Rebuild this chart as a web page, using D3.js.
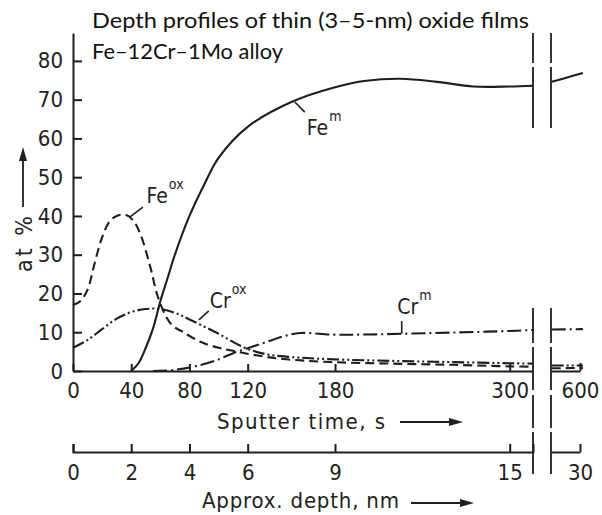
<!DOCTYPE html>
<html>
<head>
<meta charset="utf-8">
<script src="https://cdn.jsdelivr.net/npm/d3@7"></script>
<style>
  body { margin: 0; background: #fff; }
</style>
</head>
<body>
<div id="chart"></div>
<script>
// tick values
const sputterTicks = [0, 40, 80, 120, 180, 300];
const sputterTicksFar = [600];
const depthTicks = [0, 2, 4, 6, 9, 15];
const depthTicksFar = [30];
const atTicks = [0, 10, 20, 30, 40, 50, 60, 70, 80];

// series: [sputter time s, at %] (left part up to the axis break, then beyond it)
const feMetal = [[40,0],[45,2],[50,6],[55,11],[60,18],[65,24],[70,30],[80,40],[90,48],[100,55],
  [120,63],[150,69.4],[180,73.2],[200,74.8],[225,75.4],[250,74.6],[275,73.4],[300,73.4],[316,73.6]];
const feMetalFar = [[561,74.6],[580,75.6],[604,76.9]];

const feOxide = [[0,17],[5,18],[10,21],[15,28],[20,34.5],[25,38.5],[30,40],[36,40.3],[41,39],[46,35.6],
  [53,27],[58,19.5],[64,14],[69,11.5],[75,10.2],[87,7.6],[100,6],[110,5.2],[125,4.1],[144,3.1],
  [178,2.3],[220,1.9],[260,1.6],[300,1.2],[316,1.1]];
const feOxideFar = [[561,0.7],[604,0.8]];

const crOxide = [[0,6],[10,8],[20,10.8],[30,13.5],[40,15.2],[50,16],[60,16],[70,15],[80,13.3],
  [99,9.8],[118,6],[133,4.3],[150,3.6],[180,3],[220,2.6],[260,2.3],[300,2],[316,1.9]];
const crOxideFar = [[561,1.4],[604,1.4]];

const crMetal = [[55,0],[70,0.3],[87,1.5],[100,3],[110,4.6],[121,6],[133,7.5],[145,9],[156,9.8],
  [178,9.4],[200,9.4],[247,9.8],[280,10.1],[305,10.4],[316,10.6]];
const crMetalFar = [[561,10.7],[604,10.8]];

const width = 602, height = 515;
const svg = d3.select("#chart").append("svg")
  .attr("width", width).attr("height", height);

// scales
const x = d3.scaleLinear().domain([0, 316]).range([73, 533]);
const xFar = d3.scaleLinear().domain([560, 600]).range([551, 580]);
const xd = d3.scaleLinear().domain([0, 15.8]).range([73, 533]);
const xdFar = d3.scaleLinear().domain([28, 30]).range([551, 580]);
const y = d3.scaleLinear().domain([0, 87.2]).range([371, 33]);

const ink = "#1e1e1e";
const labFont = "'DejaVu Sans Condensed', 'Liberation Sans Narrow', sans-serif";
const fmt = d3.format("d");

function styleAxis(g, size) {
  g.attr("font-size", null).attr("font-family", null);
  g.selectAll("path, line").attr("stroke", ink).attr("stroke-width", 2);
  g.selectAll("text")
    .style("font-family", labFont)
    .style("font-size", size + "px")
    .attr("fill", "#222");
}

// y axis
svg.append("g").attr("transform", "translate(73,0)")
  .call(d3.axisLeft(y).tickValues(atTicks).tickFormat(fmt).tickSize(-9).tickSizeOuter(0).tickPadding(10))
  .call(g => styleAxis(g, 22));

// sputter time axis
svg.append("g").attr("transform", "translate(0,371)")
  .call(d3.axisBottom(x).tickValues(sputterTicks).tickFormat(fmt).tickSize(-7).tickSizeOuter(0).tickPadding(11))
  .call(g => styleAxis(g, 22));
svg.append("g").attr("transform", "translate(0,371)")
  .call(d3.axisBottom(xFar).tickValues(sputterTicksFar).tickFormat(fmt).tickSize(-8).tickSizeOuter(0).tickPadding(11))
  .call(g => styleAxis(g, 22));

// depth axis
svg.append("g").attr("transform", "translate(0,452)")
  .call(d3.axisBottom(xd).tickValues(depthTicks).tickFormat(fmt).tickSize(-8).tickSizeOuter(-8).tickPadding(12))
  .call(g => styleAxis(g, 22));
svg.append("g").attr("transform", "translate(0,452)")
  .call(d3.axisBottom(xdFar).tickValues(depthTicksFar).tickFormat(fmt).tickSize(-8).tickSizeOuter(0).tickPadding(12))
  .call(g => styleAxis(g, 22));

// break marks
const breakPieces = [[33,63],[67,128],[308,343],[347,390],[395,428],[432,474]];
[533, 551].forEach(bx => {
  svg.selectAll(null).data(breakPieces).enter().append("line")
    .attr("x1", bx).attr("x2", bx)
    .attr("y1", d => d[0]).attr("y2", d => d[1])
    .attr("stroke", ink).attr("stroke-width", 1.8);
});

// curves
const series = [
  { near: feMetal, far: feMetalFar, dash: null },
  { near: feOxide, far: feOxideFar, dash: "9,5" },
  { near: crOxide, far: crOxideFar, dash: "12,3,2,3,2,3" },
  { near: crMetal, far: crMetalFar, dash: "14,4,2,4" }
];
const lineNear = d3.line().x(d => x(d[0])).y(d => y(d[1])).curve(d3.curveCatmullRom.alpha(0.5));
const lineFar = d3.line().x(d => xFar(d[0])).y(d => y(d[1])).curve(d3.curveCatmullRom.alpha(0.5));

series.forEach(s => {
  [[lineNear, s.near], [lineFar, s.far]].forEach(([gen, data]) => {
    svg.append("path").datum(data)
      .attr("d", gen)
      .attr("fill", "none")
      .attr("stroke", ink)
      .attr("stroke-width", 2.1)
      .attr("stroke-dasharray", s.dash);
  });
});

// curve labels with leader lines
const labels = [
  { base: "Fe", sup: "ox", from: [39, 39.7], to: [48, 42.3], at: [50.5, 43.4] },
  { base: "Cr", sup: "ox", from: [86.5, 13.2], to: [93.3, 15.5], at: [94, 16.3] },
  { base: "Fe", sup: "m", from: [152.4, 69.4], to: [159.2, 66.8], at: [160.6, 60.9] },
  { base: "Cr", sup: "m", from: [225.8, 9.6], to: [225.8, 12.9], at: [222.8, 14.6] }
];
labels.forEach(l => {
  svg.append("line")
    .attr("x1", x(l.from[0])).attr("y1", y(l.from[1]))
    .attr("x2", x(l.to[0])).attr("y2", y(l.to[1]))
    .attr("stroke", ink).attr("stroke-width", 1.6);
  const t = svg.append("text")
    .attr("x", x(l.at[0])).attr("y", y(l.at[1]))
    .attr("fill", "#222")
    .style("font-family", labFont)
    .style("font-size", "21px");
  t.append("tspan").text(l.base);
  t.append("tspan").attr("dy", -14).attr("dx", 1).style("font-size", "14px").text(l.sup);
});

// axis titles
function axisTitle(tx, ty, len, str, rot) {
  const t = svg.append("text")
    .attr("transform", `translate(${tx},${ty})` + (rot ? ` rotate(${rot})` : ""))
    .attr("fill", "#222")
    .style("font-family", labFont)
    .style("font-size", "22px")
    .text(str);
  if (len) t.attr("textLength", len).attr("lengthAdjust", "spacing");
  return t;
}
axisTitle(217, 429, 168, "Sputter time, s");
axisTitle(202, 508, 197, "Approx. depth, nm");
axisTitle(32, 272, null, "at %", -90)
  .style("font-size", "23px")
  .style("letter-spacing", "3px");

// arrows
function arrow(x1, y1, x2, y2) {
  const ang = Math.atan2(y2 - y1, x2 - x1);
  const hl = 14, hw = 4;
  const bx = x2 - hl * Math.cos(ang), by = y2 - hl * Math.sin(ang);
  svg.append("line").attr("x1", x1).attr("y1", y1).attr("x2", bx).attr("y2", by)
    .attr("stroke", ink).attr("stroke-width", 1.8);
  svg.append("path")
    .attr("d", `M${x2},${y2}L${bx - hw * Math.sin(ang)},${by + hw * Math.cos(ang)}L${bx + hw * Math.sin(ang)},${by - hw * Math.cos(ang)}Z`)
    .attr("fill", ink);
}
arrow(400, 422, 463, 422);
arrow(411, 503, 474, 503);
arrow(23, 207, 23, 147);

// title
const titleFont = "Lato, 'Open Sans', sans-serif";
svg.append("text")
  .attr("x", 92).attr("y", 28)
  .attr("textLength", 437).attr("lengthAdjust", "spacingAndGlyphs")
  .attr("fill", "#111")
  .style("font-family", titleFont)
  .style("font-size", "21px").text("Depth profiles of thin (3–5-nm) oxide films");
svg.append("text")
  .attr("x", 92).attr("y", 59)
  .attr("textLength", 191).attr("lengthAdjust", "spacingAndGlyphs")
  .attr("fill", "#111")
  .style("font-family", titleFont)
  .style("font-size", "21px").text("Fe–12Cr–1Mo alloy");
</script>
</body>
</html>
